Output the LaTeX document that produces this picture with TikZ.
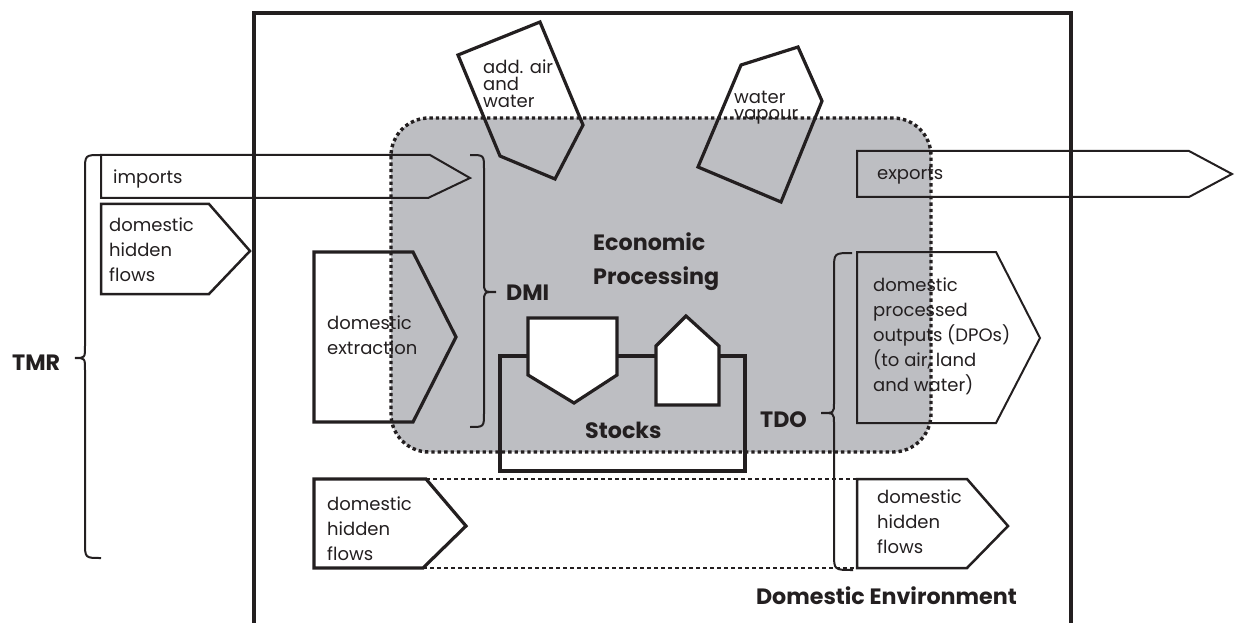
\documentclass[tikz,border=0pt]{standalone}
\usepackage{fontspec}
\setmainfont{Poppins}
\definecolor{ink}{HTML}{231F20}
\definecolor{procgray}{RGB}{189,190,194}
\tikzset{
  thinline/.style={draw=ink, line width=2.0pt},
  midline/.style={draw=ink, line width=2.5pt},
  thickline/.style={draw=ink, line width=3.2pt},
  stockshape/.style={draw=ink, line width=3.2pt, fill=white},
  bracepath/.style={draw=ink, line width=2.0pt},
  hiddenedge/.style={draw=ink, line width=1.5pt, dash pattern=on 4pt off 3pt},
  dotborder/.style={draw=ink, line width=3.4pt, dash pattern=on 3.4pt off 3pt, rounded corners=38pt},
  lbl/.style={text=ink, inner sep=0pt, anchor=base west, font=\fontsize{18}{25}\selectfont},
  mlbl/.style={text=ink, inner sep=0pt, anchor=north west, align=left,
     font=\fontsize{18}{25}\selectfont, execute at begin node={\rule{0pt}{14pt}}},
  slbl/.style={text=ink, inner sep=0pt, anchor=north west, align=left,
     font=\fontsize{18}{17}\selectfont, execute at begin node={\rule{0pt}{14pt}}},
  blbl/.style={text=ink, inner sep=0pt, anchor=base west, font=\fontsize{22.2}{33}\bfseries\selectfont},
}
\begin{document}
\begin{tikzpicture}[x=1pt,y=-1pt]
\useasboundingbox (0,0) rectangle (1235,623);
% economic processing region
\fill[procgray, rounded corners=38pt] (391,118) rectangle (931,452);
% domestic environment frame
\draw[thickline] (254,624) -- (254,13) -- (1071,13) -- (1071,624);
% flows
\draw[thinline] (101,155) -- (430,155) -- (470,178) -- (428,198) -- (101,198) -- cycle;
\draw[midline] (101,204) -- (209,204) -- (250,251) -- (209,294) -- (101,294) -- cycle;
\draw[thickline] (314,252) -- (413,252) -- (456,337) -- (413,422) -- (314,422) -- cycle;
\draw[thickline] (314,479) -- (426,479) -- (466,526) -- (423,568) -- (314,568) -- cycle;
\draw[hiddenedge] (426,479) -- (857,479);
\draw[hiddenedge] (423,568) -- (857,568);
\draw[midline] (857,479) -- (967,479) -- (1008,526) -- (967,568) -- (857,568) -- cycle;
\draw[thinline] (857,252) -- (996,252) -- (1040,338) -- (996,423) -- (857,423) -- cycle;
\draw[thinline] (857,151) -- (1189,151) -- (1232,174) -- (1189,197) -- (857,197) -- cycle;
\draw[thickline] (458,55) -- (540,22) -- (583,125) -- (555,179) -- (500,156) -- cycle;
\draw[thickline] (741,65) -- (798,47) -- (822,101) -- (781,202) -- (698,167) -- cycle;
% stocks
\draw[thickline] (500,356) rectangle (745,471);
\draw[stockshape] (528,318) -- (617,318) -- (617,375) -- (574,403) -- (528,375) -- cycle;
\draw[stockshape] (656,346) -- (686,316) -- (719,346) -- (719,405) -- (656,405) -- cycle;
% braces
\draw[bracepath] (101,155) .. controls (85,155) .. (85,171) -- (85,346) .. controls (85,358) .. (75,358) .. controls (85,358) .. (85,370) -- (85,542) .. controls (85,558) .. (101,558);
\draw[bracepath] (470,155) .. controls (484,155) .. (484,169) -- (484,282) .. controls (484,292) .. (496,292) .. controls (484,292) .. (484,302) -- (484,413) .. controls (484,427) .. (470,427);
\draw[bracepath] (852,253) .. controls (834,253) .. (834,270) -- (834,403) .. controls (834,413) .. (821,413) .. controls (834,413) .. (834,423) -- (834,553) .. controls (834,570) .. (853,570);
% labels
\node[lbl] (imports) at (113,183) {imports};
\node[lbl] (exports) at (877,180) {exports};
\node[mlbl] (dhfa) at (109,218) {domestic\\hidden\\flows};
\node[mlbl] (extraction) at (327,316) {domestic\\extraction};
\node[mlbl] (dhfb) at (327,497) {domestic\\hidden\\flows};
\node[mlbl] (dhfc) at (877,490) {domestic\\hidden\\flows};
\node[mlbl] (dpo) at (873,278) {domestic\\processed\\outputs (DPOs)\\(to air, land\\and water)};
\node[slbl] (addair) at (483,60) {add. air\\and\\water};
\node[slbl, font=\fontsize{18}{16}\selectfont] (vapour) at (734,91) {water\\vapour};
\node[blbl] (tmr) at (12,370) {TMR};
\node[blbl] (dmi) at (506,300) {DMI};
\node[blbl] (econ) at (593,251) {Economic};
\node[blbl] (proc) at (593,284) {Processing};
\node[blbl] (stocks) at (585,438) {Stocks};
\node[blbl] (tdo) at (760,427) {TDO};
\node[blbl, anchor=base east] (domenv) at (1017,604) {Domestic Environment};
% dotted boundary of economic processing
\draw[dotborder] (391,118) rectangle (931,452);
\end{tikzpicture}
\end{document}
